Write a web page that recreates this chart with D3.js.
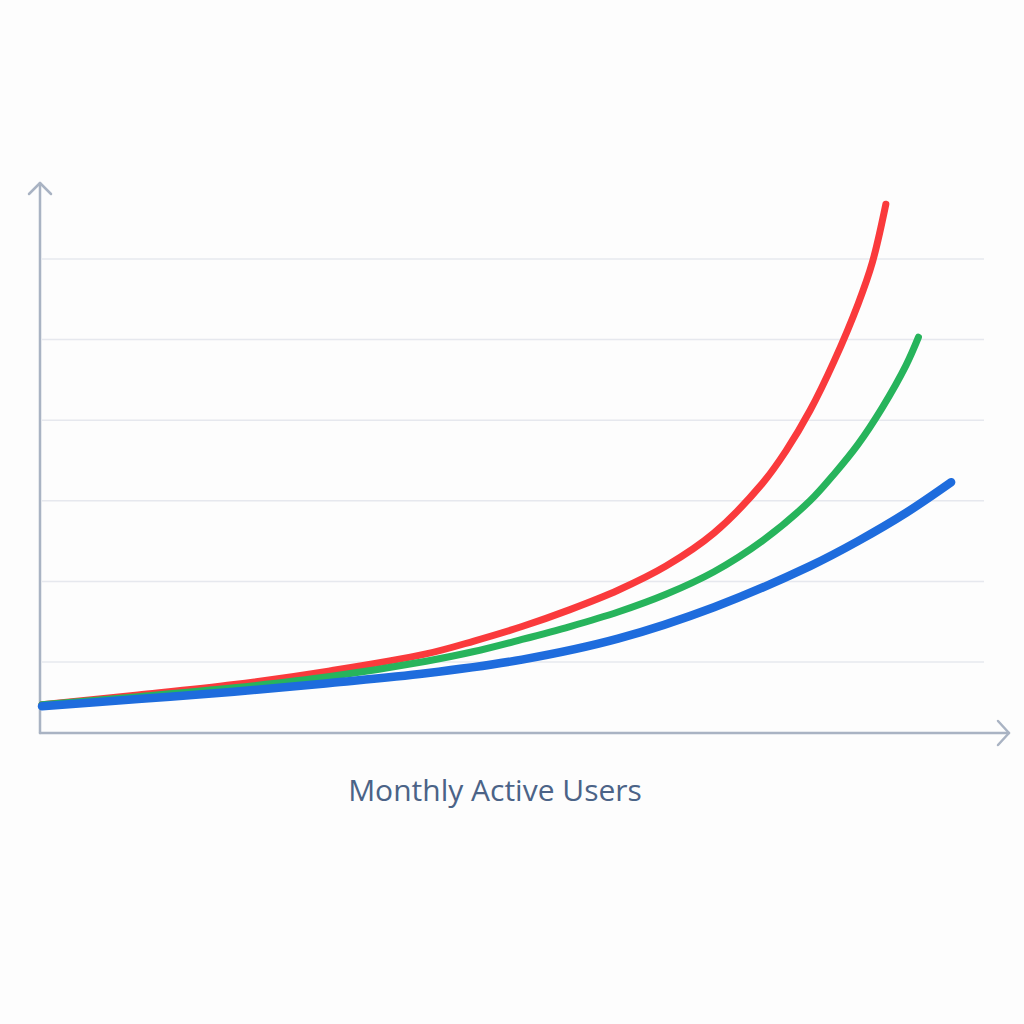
<!DOCTYPE html>
<html>
<head>
<meta charset="utf-8">
<script src="https://cdn.jsdelivr.net/npm/d3@7"></script>
<style>
  html, body { margin: 0; padding: 0; background: #fdfdfd; }
  #chart { width: 1024px; height: 1024px; }
</style>
</head>
<body>
<div id="chart"></div>
<script>
document.addEventListener("DOMContentLoaded", function(event) {

    // month index, no tick labels on the chart
    var redX   = [0, 10, 20, 30, 40, 45, 50, 55, 60, 65, 70, 75, 77.5, 80, 82.5, 85, 86.5, 87.9];
    var redY   = [4.7, 5.9, 7.2, 8.9, 11.0, 12.6, 14.4, 16.5, 18.9, 21.9, 26.0, 32.1, 36.2, 41.2, 47.3, 54.4, 59.6, 66.8];

    var greenX = [0, 10, 20, 30, 40, 45, 50, 55, 60, 65, 70, 75, 80, 82.5, 85, 87.5, 90, 91.3];
    var greenY = [4.7, 5.7, 6.8, 8.2, 10.1, 11.3, 12.8, 14.4, 16.2, 18.4, 21.2, 25.0, 30.0, 33.3, 37.0, 41.5, 46.8, 50.3];

    var blueX  = [0, 10, 20, 30, 40, 50, 60, 70, 80, 85, 90, 94.7];
    var blueY  = [4.5, 5.4, 6.3, 7.4, 8.6, 10.3, 12.9, 16.8, 21.9, 25.0, 28.5, 32.3];

    var gridValues = [10, 20, 30, 40, 50, 60];
    var xTitle = "Monthly Active Users";

    var width = 1024;
    var height = 1024;

    var svg = d3.select("#chart")
        .append("svg")
        .attr("width", width)
        .attr("height", height);

    var x = d3.scaleLinear().domain([0, 100]).range([42, 1002]);
    var y = d3.scaleLinear().domain([0, 60]).range([742.6, 259]);

    var axisColor = "#a9b3c3";
    var axisY = 733;
    var axisX = 40;

    // gridlines
    svg.append("g")
        .selectAll("line")
        .data(gridValues)
        .enter()
        .append("line")
        .attr("x1", axisX + 2)
        .attr("x2", 984)
        .attr("y1", d => y(d))
        .attr("y2", d => y(d))
        .attr("stroke", "#e6e8ee")
        .attr("stroke-width", 1.5);

    // axes with arrow heads
    var axes = svg.append("g")
        .attr("stroke", axisColor)
        .attr("stroke-width", 2.5)
        .attr("fill", "none")
        .attr("stroke-linecap", "round")
        .attr("stroke-linejoin", "round");

    axes.append("path")
        .attr("d", "M" + axisX + "," + axisY + "V183");
    axes.append("path")
        .attr("d", "M" + (axisX - 11) + ",194L" + axisX + ",183L" + (axisX + 11) + ",194");
    axes.append("path")
        .attr("d", "M" + axisX + "," + axisY + "H1009");
    axes.append("path")
        .attr("d", "M998,721L1009," + axisY + "L998,745");

    var line = d3.line()
        .x(d => x(d[0]))
        .y(d => y(d[1]))
        .curve(d3.curveCatmullRom.alpha(0.5));

    var series = [
        { xs: redX,   ys: redY,   color: "#fa3a3c", w: 7 },
        { xs: greenX, ys: greenY, color: "#27b45c", w: 7 },
        { xs: blueX,  ys: blueY,  color: "#1e6cdd", w: 8.5 }
    ];

    series.forEach(function(s) {
        var pts = s.xs.map((v, i) => [v, s.ys[i]]);
        svg.append("path")
            .datum(pts)
            .attr("d", line)
            .attr("fill", "none")
            .attr("stroke", s.color)
            .attr("stroke-width", s.w)
            .attr("stroke-linecap", "round")
            .attr("stroke-linejoin", "round");
    });

    svg.append("text")
        .attr("x", 495)
        .attr("y", 801)
        .attr("text-anchor", "middle")
        .attr("font-family", "'Open Sans', 'Noto Sans', sans-serif")
        .attr("font-size", 30)
        .attr("fill", "#4b6387")
        .text(xTitle);
});
</script>
</body>
</html>
